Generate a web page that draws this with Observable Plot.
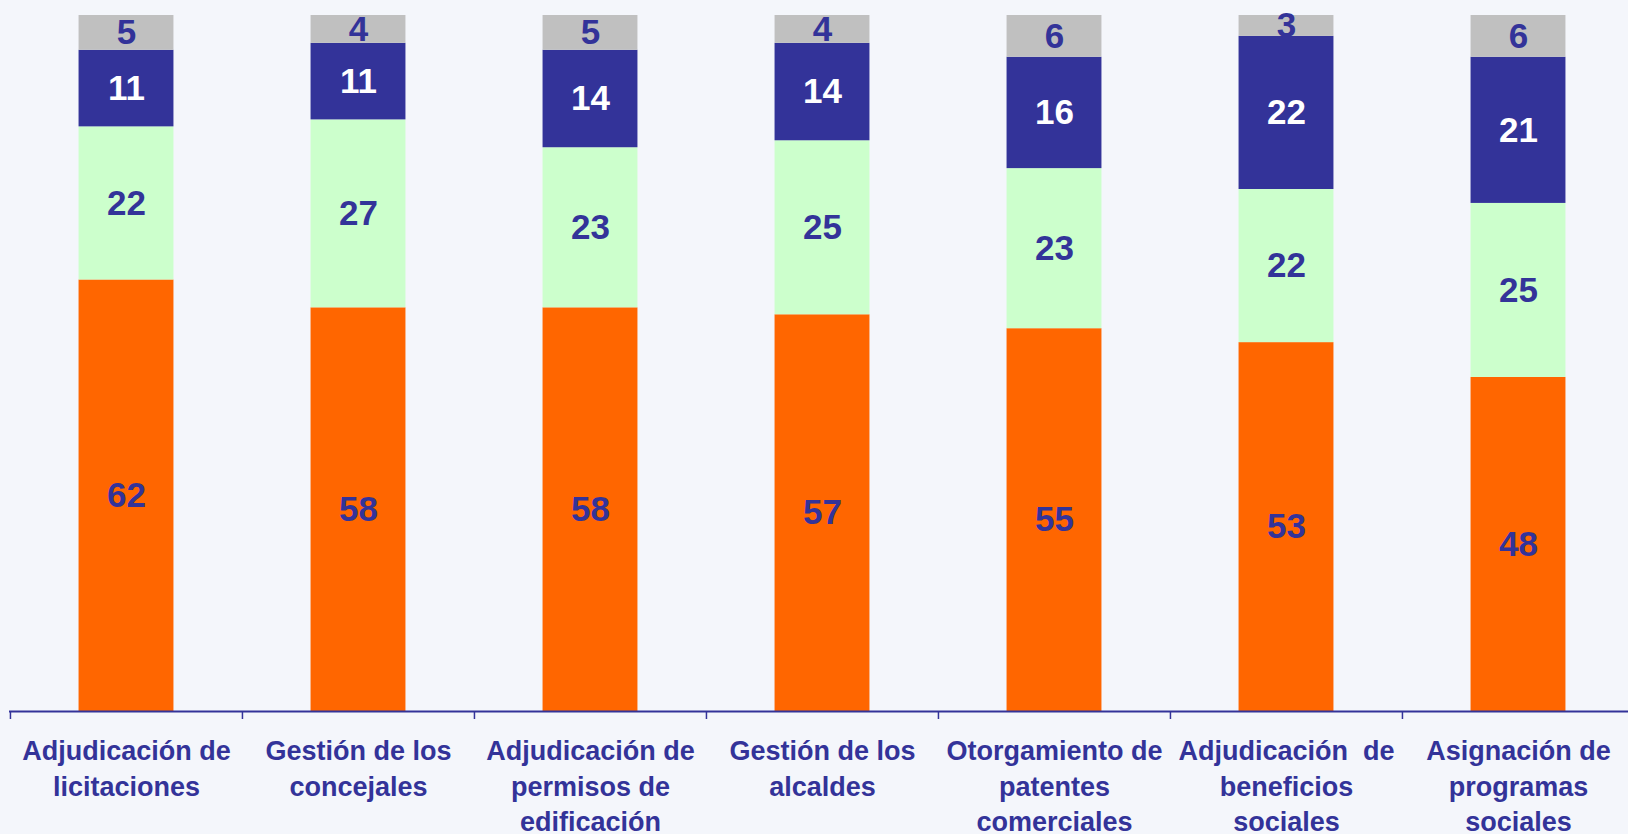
<!DOCTYPE html>
<html>
<head>
<meta charset="utf-8">
<script src="https://cdn.jsdelivr.net/npm/d3@7"></script>
<script src="https://cdn.jsdelivr.net/npm/@observablehq/plot@0.6"></script>
<style>
  html, body { margin: 0; padding: 0; background: #F4F6FB; overflow: hidden; }
  #chart { width: 1628px; height: 834px; }
</style>
</head>
<body>
<div id="chart"></div>
<script>
const categories = [
  "Adjudicación de\nlicitaciones",
  "Gestión de los\nconcejales",
  "Adjudicación de\npermisos de\nedificación",
  "Gestión de los\nalcaldes",
  "Otorgamiento de\npatentes\ncomerciales",
  "Adjudicación  de\nbeneficios\nsociales",
  "Asignación de\nprogramas\nsociales"
];
const seriesNames = ["s1", "s2", "s3", "s4"];
const seriesColors = ["#FF6600", "#CCFFCC", "#333399", "#C0C0C0"];
const s1 = [62, 58, 58, 57, 55, 53, 48];
const s2 = [22, 27, 23, 25, 23, 22, 25];
const s3 = [11, 11, 14, 14, 16, 22, 21];
const s4 = [5, 4, 5, 4, 6, 3, 6];
const seriesValues = [s1, s2, s3, s4];

const data = [];
categories.forEach((c, i) => {
  seriesNames.forEach((s, j) => data.push({cat: c, series: s, value: seriesValues[j][i]}));
});

const W = 1628, H = 834;
const xRange = [9.3, 1634];
const step = (xRange[1] - xRange[0]) / categories.length;
const barW = 95;
const inset = (step - barW) / 2;
const ink = "#333399";
const font = "'Liberation Sans', Arial, sans-serif";

const chart = Plot.plot({
  width: W,
  height: H,
  marginTop: 15,
  marginBottom: 123,
  marginLeft: 9,
  marginRight: 0,
  style: {background: "#F4F6FB", fontFamily: font, overflow: "visible"},
  x: {type: "band", domain: categories, padding: 0, range: xRange, axis: null, label: null},
  y: {domain: [0, 100], axis: null},
  color: {domain: seriesNames, range: seriesColors},
  marks: [
    Plot.barY(data, {x: "cat", y: "value", fill: "series", insetLeft: inset, insetRight: inset}),
    Plot.text(data, Plot.stackY({
      x: "cat", y: "value", z: "series",
      text: d => d.series === "s3" ? "" : String(d.value),
      fill: ink, fontSize: 35, fontWeight: "bold"
    })),
    Plot.text(data, Plot.stackY({
      x: "cat", y: "value", z: "series",
      text: d => d.series === "s3" ? String(d.value) : "",
      fill: "white", fontSize: 35, fontWeight: "bold"
    })),
    Plot.ruleY([0], {stroke: ink, strokeWidth: 2}),
    Plot.axisX({tickSize: 8, tickFormat: () => "", label: null, dx: -step / 2, stroke: ink, strokeWidth: 1.5}),
    Plot.text(categories, {
      x: d => d, text: d => d, frameAnchor: "bottom", lineAnchor: "top",
      dy: 24, lineHeight: 1.3, fontSize: 27, fontWeight: "bold", fill: ink
    })
  ]
});
document.getElementById("chart").appendChild(chart);
</script>
</body>
</html>
